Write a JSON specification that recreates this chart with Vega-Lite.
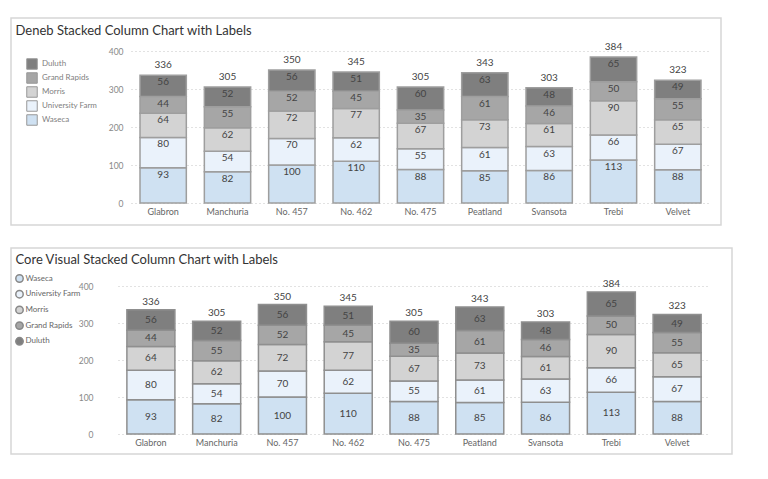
{
  "$schema": "https://vega.github.io/schema/vega-lite/v6.json",
  "background": "white",
  "padding": {"left": 10, "top": 17, "right": 0, "bottom": 0},
  "spacing": 21,
  "datasets": {
    "barley": [
      {"variety": "Glabron", "site": "Waseca", "yield": 92.8},
      {"variety": "Glabron", "site": "University Farm", "yield": 79.8},
      {"variety": "Glabron", "site": "Morris", "yield": 63.8},
      {"variety": "Glabron", "site": "Grand Rapids", "yield": 43.8},
      {"variety": "Glabron", "site": "Duluth", "yield": 55.8},
      {"variety": "Manchuria", "site": "Waseca", "yield": 82},
      {"variety": "Manchuria", "site": "University Farm", "yield": 54},
      {"variety": "Manchuria", "site": "Morris", "yield": 62},
      {"variety": "Manchuria", "site": "Grand Rapids", "yield": 55},
      {"variety": "Manchuria", "site": "Duluth", "yield": 52},
      {"variety": "No. 457", "site": "Waseca", "yield": 100},
      {"variety": "No. 457", "site": "University Farm", "yield": 70},
      {"variety": "No. 457", "site": "Morris", "yield": 72},
      {"variety": "No. 457", "site": "Grand Rapids", "yield": 52},
      {"variety": "No. 457", "site": "Duluth", "yield": 56},
      {"variety": "No. 462", "site": "Waseca", "yield": 110},
      {"variety": "No. 462", "site": "University Farm", "yield": 62},
      {"variety": "No. 462", "site": "Morris", "yield": 77},
      {"variety": "No. 462", "site": "Grand Rapids", "yield": 45},
      {"variety": "No. 462", "site": "Duluth", "yield": 51},
      {"variety": "No. 475", "site": "Waseca", "yield": 88},
      {"variety": "No. 475", "site": "University Farm", "yield": 55},
      {"variety": "No. 475", "site": "Morris", "yield": 67},
      {"variety": "No. 475", "site": "Grand Rapids", "yield": 35},
      {"variety": "No. 475", "site": "Duluth", "yield": 60},
      {"variety": "Peatland", "site": "Waseca", "yield": 85},
      {"variety": "Peatland", "site": "University Farm", "yield": 61},
      {"variety": "Peatland", "site": "Morris", "yield": 73},
      {"variety": "Peatland", "site": "Grand Rapids", "yield": 61},
      {"variety": "Peatland", "site": "Duluth", "yield": 63},
      {"variety": "Svansota", "site": "Waseca", "yield": 85.8},
      {"variety": "Svansota", "site": "University Farm", "yield": 62.8},
      {"variety": "Svansota", "site": "Morris", "yield": 60.8},
      {"variety": "Svansota", "site": "Grand Rapids", "yield": 45.8},
      {"variety": "Svansota", "site": "Duluth", "yield": 47.8},
      {"variety": "Trebi", "site": "Waseca", "yield": 113},
      {"variety": "Trebi", "site": "University Farm", "yield": 66},
      {"variety": "Trebi", "site": "Morris", "yield": 90},
      {"variety": "Trebi", "site": "Grand Rapids", "yield": 50},
      {"variety": "Trebi", "site": "Duluth", "yield": 65},
      {"variety": "Velvet", "site": "Waseca", "yield": 87.8},
      {"variety": "Velvet", "site": "University Farm", "yield": 66.8},
      {"variety": "Velvet", "site": "Morris", "yield": 64.8},
      {"variety": "Velvet", "site": "Grand Rapids", "yield": 54.8},
      {"variety": "Velvet", "site": "Duluth", "yield": 48.8}
    ]
  },
  "resolve": {"scale": {"color": "independent"}, "legend": {"color": "independent"}},
  "vconcat": [
    {
      "width": 710,
      "height": 207,
      "data": {"name": "barley"},
      "encoding": {
        "x": {"field": "variety", "type": "nominal", "scale": {"range": [120, 699], "paddingInner": 0.28, "paddingOuter": 0.14}, "axis": {"title": null, "orient": "bottom", "offset": -18, "labelAngle": 0, "labelPadding": 0, "ticks": false, "tickSize": 0, "domain": false, "grid": false, "labelFontSize": 9, "labelColor": "#666666"}}
      },
      "layer": [
        {
          "mark": {"type": "bar", "stroke": "#9e9e9e", "strokeWidth": 1.5},
          "encoding": {
            "y": {"field": "yield", "type": "quantitative", "stack": "zero", "scale": {"domain": [0, 400], "range": [185, 33], "nice": false}, "axis": {"title": "Deneb Stacked Column Chart with Labels", "titleX": -108, "titleY": 16, "titleAngle": 0, "titleAlign": "left", "titleBaseline": "alphabetic", "titleFontSize": 13, "titleFontWeight": "normal", "titleColor": "#333333", "titleLimit": 600, "offset": -112, "values": [0, 100, 200, 300, 400], "labelPadding": 0, "ticks": false, "tickSize": 0, "domain": false, "grid": true, "gridDash": [1, 3], "gridColor": "#c4c4c4", "labelFontSize": 8.5, "labelColor": "#888888"}},
            "color": {"field": "site", "type": "nominal", "scale": {"domain": ["Duluth", "Grand Rapids", "Morris", "University Farm", "Waseca"], "range": ["#7f7f7f", "#a6a6a6", "#d3d3d3", "#eaf2fb", "#cfe1f2"]}, "legend": {"title": null, "orient": "none", "legendX": 15, "legendY": 40, "padding": 0, "symbolType": "square", "symbolSize": 110, "symbolStrokeColor": "#999999", "symbolStrokeWidth": 1, "labelFontSize": 8, "labelColor": "#808080", "labelOffset": 4, "rowPadding": -2}},
            "order": {"field": "site", "sort": "descending"}
          }
        },
        {
          "mark": {"type": "text", "baseline": "top", "dy": 2, "fontSize": 10, "color": "#444444"},
          "encoding": {
            "y": {"field": "yield", "type": "quantitative", "stack": "zero", "axis": {"title": "Deneb Stacked Column Chart with Labels", "titleX": -108, "titleY": 16, "titleAngle": 0, "titleAlign": "left", "titleBaseline": "alphabetic", "titleFontSize": 13, "titleFontWeight": "normal", "titleColor": "#333333", "titleLimit": 600, "offset": -112, "values": [0, 100, 200, 300, 400], "labelPadding": 0, "ticks": false, "tickSize": 0, "domain": false, "grid": true, "gridDash": [1, 3], "gridColor": "#c4c4c4", "labelFontSize": 8.5, "labelColor": "#888888"}},
            "detail": {"field": "site"},
            "order": {"field": "site", "sort": "descending"},
            "text": {"field": "yield", "type": "quantitative", "format": ".0f"}
          }
        },
        {
          "transform": [{"aggregate": [{"op": "sum", "field": "yield", "as": "total"}], "groupby": ["variety"]}],
          "mark": {"type": "text", "baseline": "bottom", "dy": -5, "fontSize": 10, "color": "#444444"},
          "encoding": {
            "y": {"field": "total", "type": "quantitative", "axis": {"title": "Deneb Stacked Column Chart with Labels", "titleX": -108, "titleY": 16, "titleAngle": 0, "titleAlign": "left", "titleBaseline": "alphabetic", "titleFontSize": 13, "titleFontWeight": "normal", "titleColor": "#333333", "titleLimit": 600, "offset": -112, "values": [0, 100, 200, 300, 400], "labelPadding": 0, "ticks": false, "tickSize": 0, "domain": false, "grid": true, "gridDash": [1, 3], "gridColor": "#c4c4c4", "labelFontSize": 8.5, "labelColor": "#888888"}},
            "text": {"field": "total", "type": "quantitative", "format": ".0f"}
          }
        }
      ]
    },
    {
      "width": 721,
      "height": 206,
      "data": {"name": "barley"},
      "transform": [
        {"stack": "yield", "groupby": ["variety"], "sort": [{"field": "site", "order": "descending"}], "as": ["y0", "y1"]},
        {"calculate": "(datum.y0 + datum.y1) / 2", "as": "ymid"}
      ],
      "encoding": {
        "x": {"field": "variety", "type": "nominal", "scale": {"range": [107, 699], "paddingInner": 0.27, "paddingOuter": 0.135}, "axis": {"title": null, "orient": "bottom", "offset": -16, "labelAngle": 0, "labelPadding": 0, "ticks": false, "tickSize": 0, "domain": false, "grid": false, "labelFontSize": 9, "labelColor": "#666666"}}
      },
      "layer": [
        {
          "mark": {"type": "bar", "stroke": "#8f8f8f", "strokeWidth": 1.5},
          "encoding": {
            "y": {"field": "y0", "type": "quantitative", "scale": {"domain": [0, 400], "range": [186, 38], "nice": false}, "axis": {"title": "Core Visual Stacked Column Chart with Labels", "titleX": -78, "titleY": 15, "titleAngle": 0, "titleAlign": "left", "titleBaseline": "alphabetic", "titleFontSize": 13, "titleFontWeight": "normal", "titleColor": "#333333", "titleLimit": 600, "offset": -82, "values": [0, 100, 200, 300, 400], "labelPadding": 0, "ticks": false, "tickSize": 0, "domain": false, "grid": true, "gridDash": [1, 3], "gridColor": "#c4c4c4", "labelFontSize": 8.5, "labelColor": "#888888"}},
            "y2": {"field": "y1"},
            "color": {"field": "site", "type": "nominal", "scale": {"domain": ["Waseca", "University Farm", "Morris", "Grand Rapids", "Duluth"], "range": ["#cfe1f2", "#eaf2fb", "#d3d3d3", "#a6a6a6", "#7f7f7f"]}, "legend": {"title": null, "orient": "none", "legendX": 4, "legendY": 26, "padding": 0, "symbolType": "circle", "symbolSize": 55, "symbolStrokeColor": "#888888", "symbolStrokeWidth": 1.5, "labelFontSize": 8, "labelColor": "#666666", "labelOffset": 1.5, "rowPadding": 0.7}}
          }
        },
        {
          "mark": {"type": "text", "baseline": "middle", "fontSize": 10, "color": "#444444"},
          "encoding": {
            "y": {"field": "ymid", "type": "quantitative", "axis": {"title": "Core Visual Stacked Column Chart with Labels", "titleX": -78, "titleY": 15, "titleAngle": 0, "titleAlign": "left", "titleBaseline": "alphabetic", "titleFontSize": 13, "titleFontWeight": "normal", "titleColor": "#333333", "titleLimit": 600, "offset": -82, "values": [0, 100, 200, 300, 400], "labelPadding": 0, "ticks": false, "tickSize": 0, "domain": false, "grid": true, "gridDash": [1, 3], "gridColor": "#c4c4c4", "labelFontSize": 8.5, "labelColor": "#888888"}},
            "text": {"field": "yield", "type": "quantitative", "format": ".0f"}
          }
        },
        {
          "transform": [{"aggregate": [{"op": "sum", "field": "yield", "as": "total"}], "groupby": ["variety"]}],
          "mark": {"type": "text", "baseline": "bottom", "dy": -3, "fontSize": 10, "color": "#444444"},
          "encoding": {
            "y": {"field": "total", "type": "quantitative", "axis": {"title": "Core Visual Stacked Column Chart with Labels", "titleX": -78, "titleY": 15, "titleAngle": 0, "titleAlign": "left", "titleBaseline": "alphabetic", "titleFontSize": 13, "titleFontWeight": "normal", "titleColor": "#333333", "titleLimit": 600, "offset": -82, "values": [0, 100, 200, 300, 400], "labelPadding": 0, "ticks": false, "tickSize": 0, "domain": false, "grid": true, "gridDash": [1, 3], "gridColor": "#c4c4c4", "labelFontSize": 8.5, "labelColor": "#888888"}},
            "text": {"field": "total", "type": "quantitative", "format": ".0f"}
          }
        }
      ]
    }
  ],
  "config": {
    "font": "Segoe UI, Lato, sans-serif",
    "view": {"stroke": "#d6d6d6", "strokeWidth": 1.5}
  }
}
